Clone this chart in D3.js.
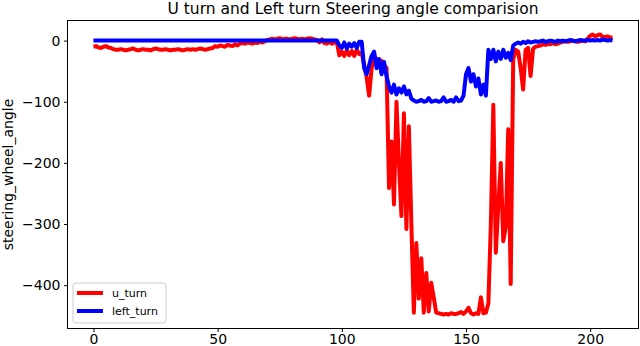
<!DOCTYPE html>
<html>
<head>
<meta charset="utf-8">
<script src="https://cdn.jsdelivr.net/npm/d3@7"></script>
<style>
  html, body { margin: 0; padding: 0; background: #fff; }
  svg text { font-family: "DejaVu Sans", sans-serif; fill: #000; }
</style>
</head>
<body>
<svg id="chart" width="640" height="346"></svg>
<script>
// Datos: ángulo del volante por muestra
const uTurn = [
  -10, -9, -11, -12, -10, -9, -11, -12, -14, -15,
  -15, -14, -15, -16, -15, -14, -13, -15, -16, -15,
  -14, -15, -15, -16, -14, -13, -14, -15, -15, -14,
  -15, -16, -15, -15, -14, -15, -16, -15, -14, -15,
  -14, -15, -14, -13, -14, -15, -14, -13, -12, -9,
  -10, -8, -9, -10, -7, -8, -9, -6, -8, -5,
  -4, -5, -3, -4, -5, -3, -4, -2, -3, -1,
  1, 2, 3, 2, 3, 4, 2, 3, 3, 2,
  3, 4, 3, 2, 3, 2, 3, 4, 3, 2,
  1, -3, 2, -4, -5, -2, -5, -3, -3, -24,
  -18, -25, -16, -24, -17, -25, -15, -22, -20, -40,
  -60, -90, -45, -25, -30, -42, -33, -40, -45, -241,
  -165, -268, -100, -200, -287, -119, -308, -140, -300, -445,
  -331, -422, -356, -445, -380, -443, -396, -420, -445, -446,
  -447, -448, -447, -448, -446, -447, -447, -446, -444, -447,
  -443, -437, -446, -448, -446, -447, -420, -446, -445, -430,
  -300, -105, -347, -270, -200, -328, -305, -145, -398, -31,
  -15, -18, -45, -80, -15, -12, -58, -13, -10, -9,
  -8, -6, -7, -5, -6, -4, -6, -5, -3, -2,
  -1, -2, -1, 0, -1, -2, -1, 0, -1, 3,
  8, 10, 7, 9, 10, 6, 6, 7, 5, 5
];

const leftTurn = [
  0, 0, 0, 0, 0, 0, 0, 0, 0, 0,
  0, 0, 0, 0, 0, 0, 0, 0, 0, 0,
  0, 0, 0, 0, 0, 0, 0, 0, 0, 0,
  0, 0, 0, 0, 0, 0, 0, 0, 0, 0,
  0, 0, 0, 0, 0, 0, 0, 0, 0, 0,
  0, 0, 0, 0, 0, 0, 0, 0, 0, 0,
  0, 0, 0, 0, 0, 0, 0, 0, 0, 0,
  0, 0, 0, 0, 0, 0, 0, 0, 0, 0,
  0, 0, 0, 0, 0, 0, 0, 0, 0, 0,
  0, 0, 0, 0, 0, 0, 0, 0, 0, -8,
  -12, -3, -13, -5, -10, -4, -12, -2, -2, -45,
  -55, -40, -25, -18, -45, -30, -55, -35, -58, -75,
  -85, -72, -88, -78, -85, -75, -88, -82, -95, -98,
  -100, -99, -97, -100, -99, -94, -100, -99, -98, -100,
  -99, -93, -100, -99, -97, -100, -93, -99, -98, -90,
  -55, -45, -67, -55, -75, -62, -88, -72, -90, -15,
  -30, -15, -34, -18, -30, -15, -28, -20, -32, -8,
  -5, -3, -5, -2, -4, -1, -3, -2, -1, -2,
  -1, 0, -2, -1, 0, -1, -2, 0, -1, 0,
  -1, 0, 1, 0, -1, 0, 1, 0, 0, 1,
  0, 1, 0, 1, 0, 2, 1, 0, 1, 0
];

const seriesNames = ['u_turn', 'left_turn'];
const seriesColors = ['#ff0000', '#0000ff'];
const xTicks = [0, 50, 100, 150, 200];
const yTicks = [0, -100, -200, -300, -400];

const chartTitle = 'U turn and Left turn Steering angle comparision';
const yLabel = 'steering_wheel_angle';

// Área de dibujo
const plotLeft = 67.5, plotRight = 638.5, plotTop = 20.5, plotBottom = 328.5;

const svg = d3.select('#chart');

// Escalas con margen del 5% como matplotlib
const n = uTurn.length;
const xPad = (n - 1) * 0.05;
const x = d3.scaleLinear()
    .domain([-xPad, (n - 1) + xPad])
    .range([plotLeft, plotRight]);

const allValues = uTurn.concat(leftTurn);
const yMin = d3.min(allValues), yMax = d3.max(allValues);
const yPad = (yMax - yMin) * 0.05;
const y = d3.scaleLinear()
    .domain([yMin - yPad, yMax + yPad])
    .range([plotBottom, plotTop]);

// Líneas
const line = d3.line()
    .x((d, i) => x(i))
    .y(d => y(d));

const plot = svg.append('g');
[uTurn, leftTurn].forEach((data, k) => {
    plot.append('path')
        .datum(data)
        .attr('fill', 'none')
        .attr('stroke', seriesColors[k])
        .attr('stroke-width', 4)
        .attr('stroke-linejoin', 'round')
        .attr('d', line);
});

// Ejes
const xAxis = svg.append('g')
    .attr('transform', `translate(0,${plotBottom})`)
    .call(d3.axisBottom(x).tickValues(xTicks).tickSize(3.5).tickPadding(2).tickSizeOuter(0));

const yAxis = svg.append('g')
    .attr('transform', `translate(${plotLeft},0)`)
    .call(d3.axisLeft(y).tickValues(yTicks).tickSize(3.5).tickPadding(3.5).tickSizeOuter(0)
        .tickFormat(d => d < 0 ? '\u2212' + Math.abs(d) : d));

[xAxis, yAxis].forEach(g => {
    g.select('.domain').remove();
    g.selectAll('.tick line').attr('stroke', '#000').attr('stroke-width', 1);
    g.selectAll('.tick text')
        .style('font-family', '"DejaVu Sans", sans-serif')
        .style('font-size', '14px')
        .attr('fill', '#000');
});
xAxis.selectAll('.tick text').attr('dy', '0.68em');

// Marco
svg.append('rect')
    .attr('x', plotLeft)
    .attr('y', plotTop)
    .attr('width', plotRight - plotLeft)
    .attr('height', plotBottom - plotTop)
    .attr('fill', 'none')
    .attr('stroke', '#000')
    .attr('stroke-width', 1);

// Título y etiqueta del eje Y
svg.append('text')
    .attr('x', (plotLeft + plotRight) / 2)
    .attr('y', 14)
    .attr('text-anchor', 'middle')
    .style('font-size', '15.5px')
    .text(chartTitle);

svg.append('text')
    .attr('transform', `translate(13,${(plotTop + plotBottom) / 2}) rotate(-90)`)
    .attr('text-anchor', 'middle')
    .style('font-size', '14px')
    .text(yLabel);

// Leyenda
const legend = svg.append('g').attr('transform', 'translate(73,283)');
legend.append('rect')
    .attr('width', 93)
    .attr('height', 40)
    .attr('rx', 3)
    .attr('fill', '#fff')
    .attr('fill-opacity', 0.8)
    .attr('stroke', '#cccccc')
    .attr('stroke-width', 1);

seriesNames.forEach((name, k) => {
    const row = legend.append('g').attr('transform', `translate(0,${10 + k * 18})`);
    row.append('line')
        .attr('x1', 4).attr('x2', 30)
        .attr('stroke', seriesColors[k])
        .attr('stroke-width', 4);
    row.append('text')
        .attr('x', 39)
        .attr('y', 4)
        .style('font-size', '11px')
        .text(name);
});
</script>
</body>
</html>
